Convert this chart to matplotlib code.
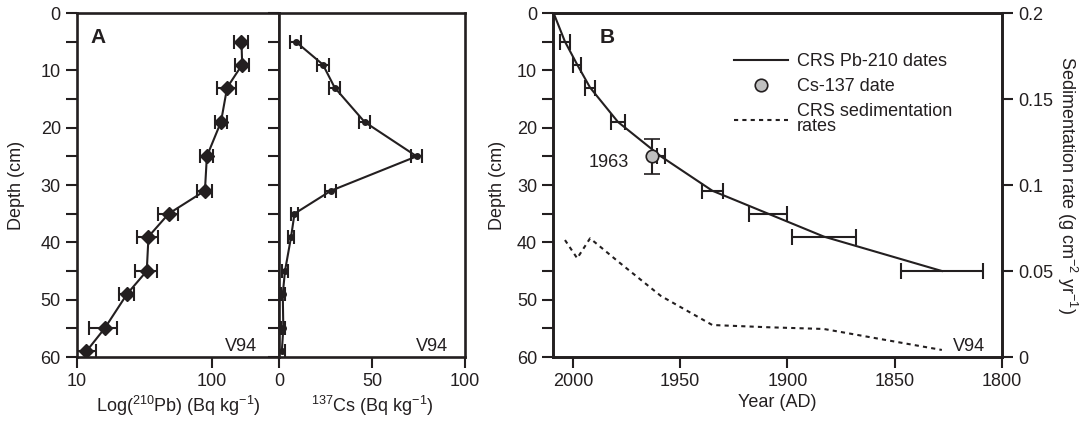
import matplotlib
matplotlib.use("Agg")
import matplotlib.pyplot as plt
from matplotlib.lines import Line2D

plt.rcParams["font.family"] = ["Liberation Sans", "DejaVu Sans"]
plt.rcParams["mathtext.fontset"] = "custom"
plt.rcParams["mathtext.rm"] = "Liberation Sans"
plt.rcParams["mathtext.it"] = "Liberation Sans:italic"
plt.rcParams["font.size"] = 13

# panel A: activity profiles
depth = [5, 9, 13, 19, 25, 31, 35, 39, 45, 49, 55, 59]
pb210 = [166, 168, 130, 117, 92, 89, 48, 34, 33, 23.6, 16.1, 11.8]
pb210_err = [21, 20, 20, 12, 10, 11, 8, 6, 6, 3, 3.8, 2.2]
cs137 = [9, 23.6, 29.9, 46, 74, 27.9, 8.3, 6.5, 3.2, 2.0, 2.3, 1.5]
cs137_err = [3, 3, 3, 3, 3, 3, 2, 1.5, 1.5, 1, 1, 1.5]

# panel B: CRS chronology
surface_year = 2009
crs_depth = [5, 9, 13, 19, 25, 31, 35, 39, 45]
crs_year = [2003.7, 1998, 1992, 1979, 1959, 1935, 1909, 1883, 1828]
crs_err = [2.3, 2, 2.2, 3.4, 2, 5, 9, 15, 19]
sed_rate = [0.068, 0.0574, 0.069, 0.0556, 0.0355, 0.0186, 0.0173, 0.0163, 0.0041]
cs_date, cs_depth, cs_depth_err = 1963, 25, 3

ink = "#231f20"
lw = 1.5
tick_kw = dict(direction="out", length=8, width=1.5, color=ink, labelcolor=ink)

fig = plt.figure(figsize=(10.9, 4.24), dpi=100)
ax_pb = fig.add_axes([0.0704, 0.158, 0.1856, 0.8113])
ax_cs = fig.add_axes([0.256, 0.158, 0.1706, 0.8113])
ax_b = fig.add_axes([0.5073, 0.158, 0.4119, 0.8113])
ax_r = ax_b.twinx()

for ax in (ax_pb, ax_cs, ax_b, ax_r):
    for s in ax.spines.values():
        s.set_linewidth(1.9)
        s.set_color(ink)
    ax.tick_params(which="both", **tick_kw)

# --- Pb-210
ax_pb.errorbar(pb210, depth, xerr=pb210_err, color=ink, lw=lw, marker="D", ms=7,
               capsize=5, elinewidth=1.5, capthick=1.5)
ax_pb.set_xscale("log")
ax_pb.set_xlim(10, 315)
ax_pb.set_xticks([10, 100])
ax_pb.set_xticklabels(["10", "100"])
ax_pb.minorticks_off()
ax_pb.set_ylim(60, 0)
ax_pb.set_yticks(range(0, 61, 10))
ax_pb.set_yticks(range(5, 60, 10), minor=True)
ax_pb.tick_params(which="minor", length=8, width=1.5, direction="out")
ax_pb.set_xlabel("Log($^{210}$Pb) (Bq kg$^{-1}$)", color=ink, labelpad=3)
ax_pb.set_ylabel("Depth (cm)", color=ink, labelpad=11)
ax_pb.text(0.07, 0.93, "A", transform=ax_pb.transAxes, fontweight="bold",
           fontsize=15, va="center", color=ink)
ax_pb.text(0.89, 0.03, "V94", transform=ax_pb.transAxes, ha="right", va="center", color=ink)

# --- Cs-137
ax_cs.errorbar(cs137, depth, xerr=cs137_err, color=ink, lw=lw, marker="o", ms=4,
               capsize=5, elinewidth=1.5, capthick=1.5)
ax_cs.set_xlim(0, 100)
ax_cs.set_xticks([0, 50, 100])
ax_cs.set_ylim(60, 0)
ax_cs.set_yticks(range(0, 61, 5))
ax_cs.tick_params(axis="y", labelleft=False)
ax_cs.set_xlabel("$^{137}$Cs (Bq kg$^{-1}$)", color=ink, labelpad=3)
ax_cs.text(0.91, 0.03, "V94", transform=ax_cs.transAxes, ha="right", va="center", color=ink)

# --- CRS dates
ax_b.plot([surface_year] + crs_year, [0] + crs_depth, color=ink, lw=lw, zorder=3)
ax_b.errorbar(crs_year, crs_depth, xerr=crs_err, fmt="none", ecolor=ink,
              elinewidth=1.5, capsize=6, capthick=1.5, zorder=3)
ax_b.errorbar([cs_date], [cs_depth], yerr=[cs_depth_err], fmt="o", ms=9,
              mfc="#c0c0c0", mec=ink, mew=1.2, ecolor=ink, elinewidth=1.5,
              capsize=6, capthick=1.5, zorder=4)
ax_b.text(1974, 26, "1963", ha="right", va="center", color=ink)
ax_b.set_xlim(2009.3, 1800)
ax_b.set_xticks([2000, 1950, 1900, 1850, 1800])
ax_b.set_ylim(60, 0)
ax_b.set_yticks(range(0, 61, 10))
ax_b.set_yticks(range(5, 60, 10), minor=True)
ax_b.set_xlabel("Year (AD)", color=ink, labelpad=3)
ax_b.set_ylabel("Depth (cm)", color=ink, labelpad=8)
ax_b.text(0.105, 0.93, "B", transform=ax_b.transAxes, fontweight="bold",
          fontsize=15, va="center", color=ink)
ax_b.text(0.962, 0.03, "V94", transform=ax_b.transAxes, ha="right", va="center", color=ink)

# --- sedimentation rates on right axis
ax_r.plot(crs_year, sed_rate, color=ink, lw=lw, ls=(0, (2, 2)))
ax_r.set_ylim(0, 0.2)
ax_r.set_yticks([0, 0.05, 0.1, 0.15, 0.2])
ax_r.set_yticklabels(["0", "0.05", "0.1", "0.15", "0.2"])
ax_r.set_ylabel("Sedimentation rate (g cm$^{-2}$ yr$^{-1}$)", color=ink,
                rotation=270, labelpad=19)

handles = [
    Line2D([], [], color=ink, lw=lw),
    Line2D([], [], ls="none", marker="o", ms=9, mfc="#c0c0c0", mec=ink, mew=1.2),
    Line2D([], [], color=ink, lw=lw, ls=(0, (2, 2))),
]
labels = ["CRS Pb-210 dates", "Cs-137 date", "CRS sedimentation\nrates"]
leg = ax_b.legend(handles, labels, loc="upper left", bbox_to_anchor=(0.379, 0.915),
                  frameon=False, handlelength=3.0, handletextpad=0.5,
                  labelspacing=0.45, fontsize=13, borderaxespad=0.2)
for t in leg.get_texts():
    t.set_color(ink)
    t.set_linespacing(0.85)

fig.savefig("out.png", dpi=100)
